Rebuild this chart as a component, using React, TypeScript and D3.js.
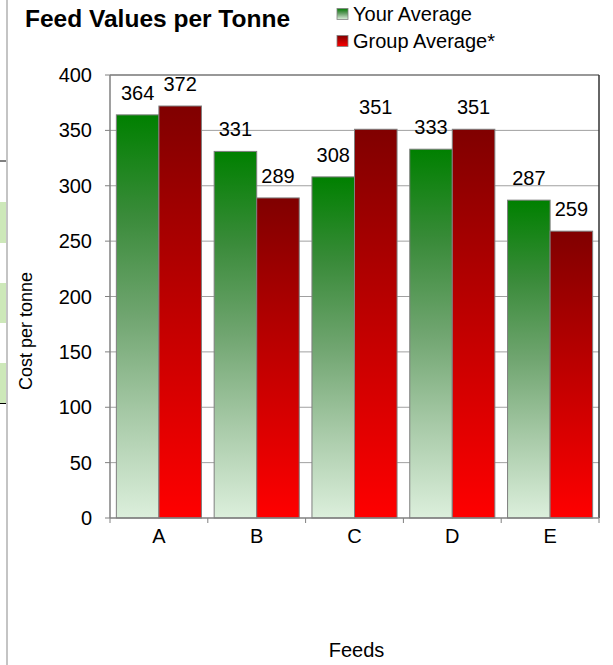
import React from "react";
import * as d3 from "d3";

// chart data
const feeds = ["A", "B", "C", "D", "E"];
const yourAverage = [364, 331, 308, 333, 287];
const groupAverage = [372, 289, 351, 351, 259];
const seriesNames = ["Your Average", "Group Average*"];
const yTicks = [0, 50, 100, 150, 200, 250, 300, 350, 400];

const W = 613;
const H = 665;
const FONT = "'Liberation Sans', Arial, sans-serif";

// plot area
const left = 110;
const right = 599;
const top = 75;
const bottom = 518;

export default function App() {
  const x = d3.scaleBand<string>().domain(feeds).range([left, right]).paddingInner(0.13).paddingOuter(0.065);
  const inner = d3.scaleBand<string>().domain(seriesNames).range([0, x.bandwidth()]);
  const y = d3.scaleLinear().domain([0, 400]).range([bottom, top]);

  const series = [
    { name: seriesNames[0], values: yourAverage, fill: "url(#gGreen)" },
    { name: seriesNames[1], values: groupAverage, fill: "url(#gRed)" },
  ];

  // boundaries between categories for the x axis ticks
  const boundaries = [left, ...feeds.slice(1).map((f) => x(f)! - (x.step() - x.bandwidth()) / 2), right];

  return (
    <>
      <style>{"body{margin:0}"}</style>
      <svg width={W} height={H} style={{ display: "block", fontFamily: FONT }}>
        <defs>
          <linearGradient id="gGreen" x1="0" y1="0" x2="0" y2="1">
            <stop offset="0" stopColor="#008000" />
            <stop offset="0.25" stopColor="#3a8b3a" />
            <stop offset="0.5" stopColor="#70a570" />
            <stop offset="0.75" stopColor="#a8caa8" />
            <stop offset="1" stopColor="#dcefdc" />
          </linearGradient>
          <linearGradient id="gRed" x1="0" y1="0" x2="0" y2="1">
            <stop offset="0" stopColor="#800000" />
            <stop offset="1" stopColor="#ff0000" />
          </linearGradient>
        </defs>
        <rect width={W} height={H} fill="#fff" />

        {/* bits of the sheet behind the chart */}
        <line x1={7} x2={7} y1={0} y2={H} stroke="#c4c4c4" strokeWidth={2} />
        <line x1={0} x2={6} y1={161} y2={161} stroke="#000" />
        <rect x={0} y={202} width={6} height={41} fill="#cde8b9" />
        <rect x={0} y={283} width={6} height={40} fill="#cde8b9" />
        <rect x={0} y={363} width={6} height={40} fill="#cde8b9" />
        <line x1={0} x2={6} y1={403.5} y2={403.5} stroke="#000" />

        {/* title */}
        <text x={25} y={27} fontSize={24.5} fontWeight="bold" fill="#000">
          Feed Values per Tonne
        </text>

        {/* legend */}
        {series.map((s, i) => (
          <g key={s.name} transform={`translate(337,${8.5 + i * 27})`}>
            <rect width={11} height={11} fill={s.fill} stroke="#808080" strokeWidth={0.8} />
            <text x={16} y={12.5} fontSize={20} fill="#000">
              {s.name}
            </text>
          </g>
        ))}

        {/* grid */}
        {yTicks.slice(1, -1).map((t) => (
          <line key={t} x1={left} x2={right} y1={y(t)} y2={y(t)} stroke="#a0a0a0" />
        ))}

        {/* bars */}
        {series.map((s) =>
          s.values.map((v, i) => (
            <rect
              key={s.name + i}
              x={x(feeds[i])! + inner(s.name)!}
              y={y(v)}
              width={inner.bandwidth()}
              height={bottom - y(v)}
              fill={s.fill}
              stroke="#7f7f7f"
              strokeWidth={1}
            />
          ))
        )}

        {/* data labels */}
        {series.map((s) =>
          s.values.map((v, i) => (
            <text
              key={"l" + s.name + i}
              x={x(feeds[i])! + inner(s.name)! + inner.bandwidth() / 2}
              y={y(v) - 15}
              fontSize={20}
              textAnchor="middle"
              fill="#000"
            >
              {v}
            </text>
          ))
        )}

        {/* plot border */}
        <line x1={left} x2={right} y1={top} y2={top} stroke="#333" strokeWidth={1.2} />
        <line x1={right} x2={right} y1={top} y2={bottom} stroke="#333" strokeWidth={1.5} />

        {/* y axis */}
        <line x1={left} x2={left} y1={top} y2={bottom} stroke="#808080" strokeWidth={1.5} />
        {yTicks.map((t) => (
          <g key={t}>
            <line x1={left - 5} x2={left} y1={y(t)} y2={y(t)} stroke="#808080" />
            <text x={92} y={y(t) + 7} fontSize={20} textAnchor="end" fill="#000">
              {t}
            </text>
          </g>
        ))}
        <text transform="translate(32,331) rotate(-90)" fontSize={18} textAnchor="middle" fill="#000">
          Cost per tonne
        </text>

        {/* x axis */}
        <line x1={left} x2={right} y1={bottom} y2={bottom} stroke="#808080" strokeWidth={1.5} />
        {boundaries.map((bx, i) => (
          <line key={i} x1={bx} x2={bx} y1={bottom} y2={bottom + 5} stroke="#808080" />
        ))}
        {feeds.map((f) => (
          <text key={f} x={x(f)! + x.bandwidth() / 2} y={543} fontSize={20} textAnchor="middle" fill="#000">
            {f}
          </text>
        ))}
        <text x={(left + right) / 2 + 2} y={657} fontSize={20} textAnchor="middle" fill="#000">
          Feeds
        </text>
      </svg>
    </>
  );
}
